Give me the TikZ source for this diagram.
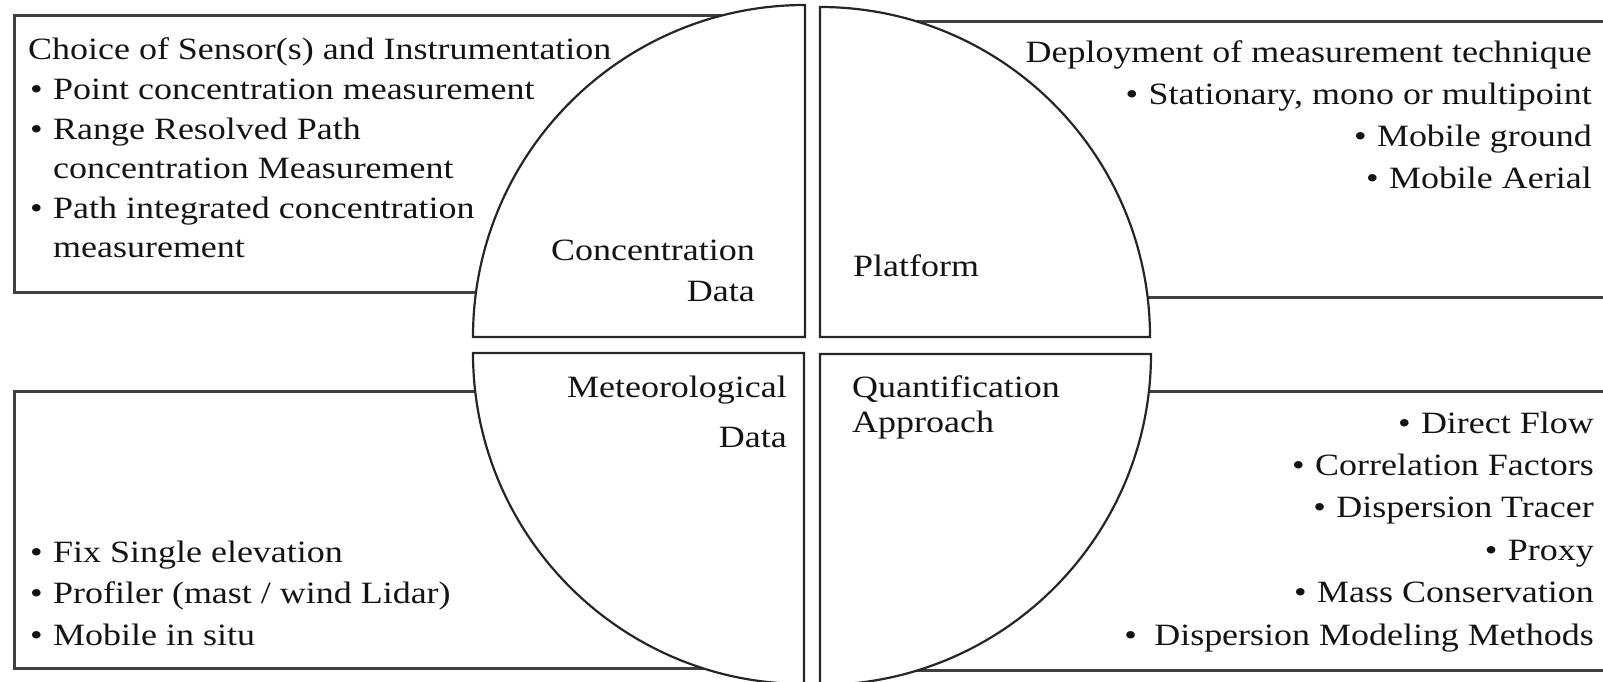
\documentclass[tikz,border=0pt]{standalone}
\usepackage{fontspec}
\setmainfont{Liberation Serif}[FakeStretch=1.16]
\newcommand{\bul}{\makebox[11.5pt][l]{\textbullet}}

\begin{document}
\begin{tikzpicture}[x=0.5pt, y=0.5pt, line width=1.2pt,
  every node/.style={inner sep=0pt, text=black!92},
  txt/.style={font=\fontsize{15.5}{#1}\selectfont},
  box/.style={draw=black!75, line width=1.5pt},
  quarter/.style={draw=black!85, fill=white, line width=1.1pt}]
  \clip (0,0) rectangle (1603,681);
  % text boxes behind the circle
  \draw[box] (14,665) rectangle (790,388);
  \draw[box] (830,659) rectangle (1610,383);
  \draw[box] (14,289) rectangle (790,13);
  \draw[box] (830,289) rectangle (1610,11);
  % the four quarters
  \draw[quarter] (805,344) -- (473,344) arc[start angle=180, end angle=90, radius=332] -- cycle;
  \draw[quarter] (820,344) -- (820,674) arc[start angle=90, end angle=0, radius=330] -- cycle;
  \draw[quarter] (804,328) -- (473,328) arc[start angle=180, end angle=270, radius=331] -- cycle;
  \draw[quarter] (820,327) -- (1151,327) arc[start angle=0, end angle=-90, radius=331] -- cycle;

  % anchors sit on the baseline of the last line
  \node[txt=20.5, align=right, anchor=base east] (cdata) at (756,379) {Concentration\\Data};
  \node[txt=20, anchor=base west] (platform) at (852,404) {Platform};
  \node[txt=25, align=right, anchor=base east] (metdata) at (788,233) {Meteorological\\Data};
  \node[txt=17.5, align=left, anchor=base west] (quant) at (851,248) {Quantification\\Approach};

  \node[txt=19.8, align=left, anchor=base west] (sensors) at (27,423) {Choice of Sensor(s) and Instrumentation\\
    \hspace*{1pt}\bul Point concentration measurement\\
    \hspace*{1pt}\bul Range Resolved Path\\
    \hspace*{12.5pt}concentration Measurement\\
    \hspace*{1pt}\bul Path integrated concentration\\
    \hspace*{12.5pt}measurement};
  \node[txt=21, align=right, anchor=base east] (deploy) at (1593,492) {Deployment of measurement technique\\
    \bul Stationary, mono or multipoint\\
    \bul Mobile ground\\
    \bul Mobile Aerial};
  \node[txt=20.75, align=left, anchor=base west] (metlist) at (29,36) {\bul Fix Single elevation\\
    \bul Profiler (mast / wind Lidar)\\
    \bul Mobile in situ};
  \node[txt=21.2, align=right, anchor=base east] (methods) at (1595,36) {\bul Direct Flow\\
    \bul Correlation Factors\\
    \bul Dispersion Tracer\\
    \bul Proxy\\
    \bul Mass Conservation\\
    \makebox[15pt][l]{\textbullet}Dispersion Modeling Methods};
\end{tikzpicture}
\end{document}
